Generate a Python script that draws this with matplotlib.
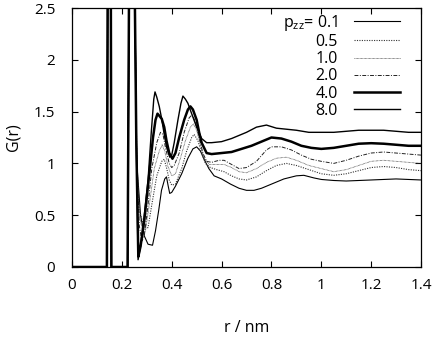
import matplotlib
matplotlib.use("Agg")
import matplotlib.pyplot as plt

plt.rcParams['font.family'] = ['Open Sans', 'DejaVu Sans']
plt.rcParams['mathtext.fontset'] = 'custom'
plt.rcParams['mathtext.rm'] = 'Open Sans'
plt.rcParams['mathtext.it'] = 'Open Sans'

# common start: two sharp peaks (off scale)
r_head = [0.0, 0.140, 0.147, 0.153, 0.158, 0.223, 0.236, 0.245, 0.252]
g_head = [0.0, 0.0, 6.0, 6.0, 0.0, 0.0, 6.0, 6.0, 2.6]

r_p80 = [0.258, 0.265, 0.275, 0.29, 0.305, 0.318, 0.328, 0.333, 0.340, 0.350, 0.359, 0.370, 0.379, 0.392, 0.40,
         0.41, 0.425, 0.437, 0.445, 0.455, 0.465, 0.48, 0.50, 0.52, 0.54, 0.56, 0.6, 0.64, 0.67, 0.70, 0.74,
         0.78, 0.82, 0.86, 0.9, 0.95, 1.0, 1.05, 1.1, 1.15, 1.2, 1.25, 1.3, 1.35, 1.4]
g_p80 = [1.2, 0.07, 0.2, 0.5, 0.84, 1.3, 1.62, 1.69, 1.64, 1.55, 1.44, 1.28, 1.16, 1.06, 1.08,
         1.2, 1.42, 1.58, 1.65, 1.62, 1.58, 1.48, 1.35, 1.24, 1.2, 1.2, 1.21, 1.24, 1.27, 1.30, 1.35,
         1.37, 1.34, 1.33, 1.32, 1.30, 1.30, 1.30, 1.31, 1.32, 1.32, 1.32, 1.31, 1.30, 1.30]

r_p40 = [0.258, 0.266, 0.275, 0.29, 0.31, 0.325, 0.335, 0.343, 0.35, 0.36, 0.37, 0.379, 0.39, 0.403, 0.415,
         0.43, 0.45, 0.465, 0.475, 0.485, 0.5, 0.51, 0.52, 0.54, 0.56, 0.6, 0.64, 0.68, 0.72, 0.76, 0.8,
         0.84, 0.88, 0.92, 0.96, 1.0, 1.05, 1.1, 1.15, 1.2, 1.25, 1.3, 1.35, 1.4]
g_p40 = [1.2, 0.1, 0.2, 0.45, 0.9, 1.25, 1.42, 1.48, 1.46, 1.43, 1.35, 1.22, 1.1, 1.045, 1.1,
         1.25, 1.42, 1.52, 1.55, 1.52, 1.42, 1.3, 1.2, 1.1, 1.09, 1.10, 1.11, 1.14, 1.17, 1.21, 1.25,
         1.24, 1.21, 1.17, 1.15, 1.14, 1.15, 1.17, 1.19, 1.195, 1.19, 1.18, 1.17, 1.17]

r_p20 = [0.26, 0.27, 0.28, 0.29, 0.305, 0.32, 0.34, 0.355, 0.365, 0.375, 0.39, 0.40, 0.41, 0.43, 0.45,
         0.47, 0.482, 0.495, 0.51, 0.525, 0.54, 0.56, 0.59, 0.61, 0.64, 0.67, 0.70, 0.74, 0.78, 0.8,
         0.84, 0.88, 0.92, 0.96, 1.0, 1.05, 1.1, 1.15, 1.2, 1.25, 1.3, 1.35, 1.4]
g_p20 = [1.0, 0.4, 0.25, 0.3, 0.6, 0.95, 1.2, 1.3, 1.28, 1.15, 1.0, 0.96, 0.98, 1.1, 1.3,
         1.44, 1.47, 1.4, 1.25, 1.1, 1.02, 1.01, 1.03, 1.03, 0.99, 0.95, 0.96, 1.02, 1.13, 1.16,
         1.16, 1.13, 1.08, 1.04, 1.02, 1.0, 1.03, 1.07, 1.10, 1.11, 1.10, 1.09, 1.08]

r_p10 = [0.26, 0.27, 0.285, 0.295, 0.31, 0.33, 0.35, 0.362, 0.372, 0.385, 0.40, 0.415, 0.435, 0.455, 0.475,
         0.487, 0.5, 0.515, 0.53, 0.55, 0.58, 0.61, 0.64, 0.67, 0.70, 0.74, 0.78, 0.82, 0.86, 0.9,
         0.95, 1.0, 1.05, 1.1, 1.15, 1.2, 1.25, 1.3, 1.35, 1.4]
g_p10 = [1.0, 0.5, 0.32, 0.35, 0.6, 0.95, 1.12, 1.18, 1.12, 0.97, 0.88, 0.9, 1.05, 1.22, 1.35,
         1.38, 1.32, 1.18, 1.05, 0.99, 0.99, 0.99, 0.96, 0.92, 0.91, 0.95, 1.01, 1.05, 1.06, 1.03,
         0.98, 0.95, 0.92, 0.94, 0.98, 1.02, 1.03, 1.02, 1.01, 1.0]

r_p05 = [0.26, 0.27, 0.29, 0.305, 0.32, 0.34, 0.36, 0.37, 0.38, 0.39, 0.40, 0.415, 0.44, 0.46, 0.48,
         0.49, 0.505, 0.52, 0.535, 0.555, 0.58, 0.61, 0.64, 0.67, 0.70, 0.74, 0.78, 0.82, 0.86, 0.9,
         0.95, 1.0, 1.05, 1.1, 1.15, 1.2, 1.25, 1.3, 1.35, 1.4]
g_p05 = [1.0, 0.55, 0.38, 0.38, 0.6, 0.88, 1.02, 1.04, 0.95, 0.84, 0.79, 0.8, 0.95, 1.12, 1.25,
         1.28, 1.22, 1.1, 1.0, 0.96, 0.94, 0.92, 0.88, 0.85, 0.84, 0.87, 0.93, 0.98, 1.0, 0.98,
         0.94, 0.9, 0.885, 0.9, 0.93, 0.96, 0.97, 0.96, 0.94, 0.93]

r_p01 = [0.26, 0.275, 0.29, 0.305, 0.323, 0.335, 0.348, 0.359, 0.372, 0.379, 0.386, 0.392, 0.40, 0.415, 0.44,
         0.465, 0.485, 0.5, 0.515, 0.53, 0.549, 0.57, 0.6, 0.636, 0.67, 0.70, 0.73, 0.76, 0.8, 0.85,
         0.9, 0.93, 0.97, 1.0, 1.05, 1.1, 1.15, 1.2, 1.25, 1.3, 1.35, 1.4]
g_p01 = [1.0, 0.5, 0.3, 0.22, 0.21, 0.35, 0.55, 0.74, 0.85, 0.87, 0.78, 0.71, 0.72, 0.78, 0.9,
         1.05, 1.14, 1.16, 1.12, 1.04, 0.95, 0.88, 0.85, 0.80, 0.76, 0.74, 0.74, 0.76, 0.80, 0.85,
         0.88, 0.885, 0.86, 0.845, 0.835, 0.83, 0.835, 0.84, 0.845, 0.85, 0.845, 0.84]

labels = ["p$_{zz}$= 0.1", "0.5", "1.0", "2.0", "4.0", "8.0"]
series = [(r_p01, g_p01), (r_p05, g_p05), (r_p10, g_p10), (r_p20, g_p20), (r_p40, g_p40), (r_p80, g_p80)]
styles = [dict(ls='-', lw=0.8, color='black'),
          dict(ls=(0, (1, 1.2)), lw=0.8, color='#333333'),
          dict(ls=(0, (0.8, 0.8)), lw=0.6, color='#444444'),
          dict(ls=(0, (4, 1.5, 1, 1.5)), lw=0.7, color='#222222'),
          dict(ls='-', lw=1.8, color='black'),
          dict(ls='-', lw=1.0, color='black')]

fig = plt.figure(figsize=(4.36, 3.40), dpi=100)
ax = fig.add_axes([72/436, 73/340, 349/436, 259/340])

for (rr, gg), lab, st in zip(series, labels, styles):
    ax.plot(r_head + rr, g_head + gg, label=lab, **st)

ax.set_xlim(0, 1.4)
ax.set_ylim(0, 2.5)
ax.set_xticks([0, 0.2, 0.4, 0.6, 0.8, 1.0, 1.2, 1.4])
ax.set_xticklabels(["0", "0.2", "0.4", "0.6", "0.8", "1", "1.2", "1.4"])
ax.set_yticks([0, 0.5, 1.0, 1.5, 2.0, 2.5])
ax.set_yticklabels(["0", "0.5", "1", "1.5", "2", "2.5"])
ax.tick_params(direction='in', top=True, right=True, length=4, width=0.8, labelsize=11)
ax.tick_params(axis='x', pad=8)
ax.tick_params(axis='y', pad=12)
for s in ax.spines.values():
    s.set_linewidth(0.9)
ax.set_xlabel("r / nm", fontsize=11.5, labelpad=19)
ax.set_ylabel("G(r)", fontsize=11.5, labelpad=9)

leg = ax.legend(loc='upper right', bbox_to_anchor=((400-72)/349, 0.982), frameon=False,
                markerfirst=False, fontsize=11.5, handlelength=2.9, handletextpad=1.0,
                labelspacing=0.08, borderpad=0, borderaxespad=0)

fig.savefig("out.png", dpi=100)
